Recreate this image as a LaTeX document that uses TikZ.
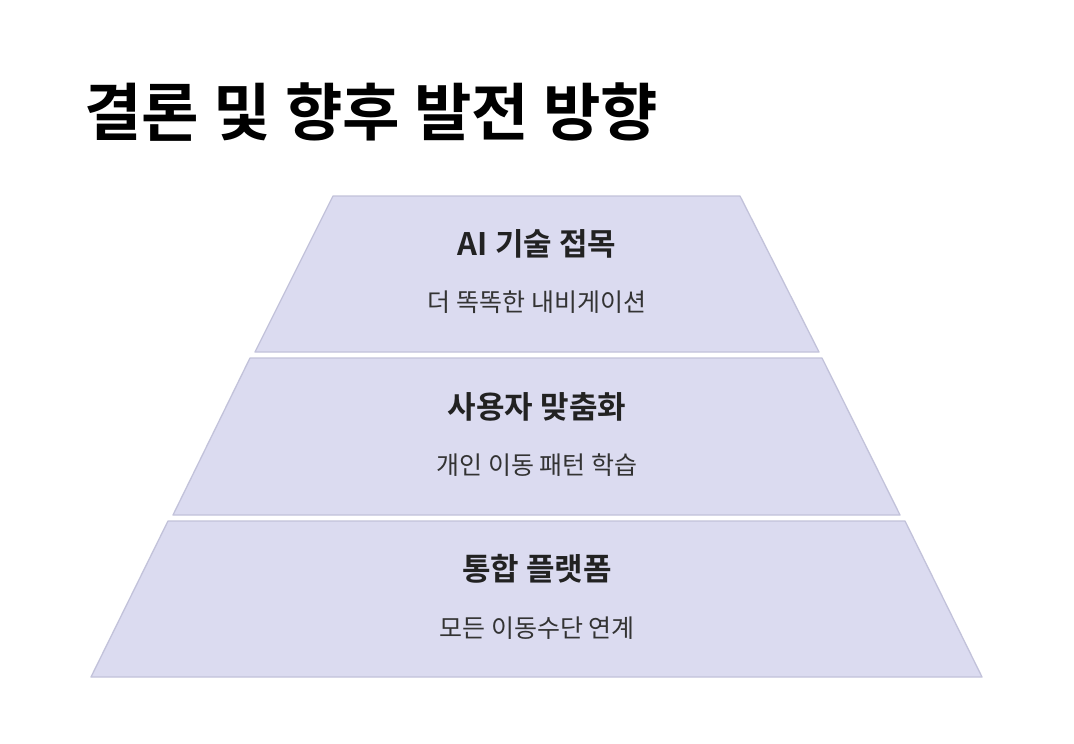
\documentclass[tikz,border=0pt]{standalone}
\usepackage{fontspec}
\setmainfont{Noto Sans CJK KR}
\newfontfamily\krb{Noto Sans CJK KR Bold}
\definecolor{layerfill}{HTML}{DBDBF0}
\definecolor{layerline}{HTML}{C2C2DA}
\definecolor{txtdark}{HTML}{222222}
\definecolor{txtsub}{HTML}{333333}
\begin{document}
\begin{tikzpicture}[x=1pt,y=-1pt,
  layer/.style={fill=layerfill,draw=layerline,line width=1.3pt,line join=round},
  headtxt/.style={inner sep=0pt,text=txtdark,font=\krb\fontsize{31}{34}\selectfont},
  subtxt/.style={inner sep=0pt,text=txtsub,font=\fontsize{25}{28}\selectfont},
  titletxt/.style={inner sep=0pt,anchor=west,text=black,font=\krb\fontsize{62.5}{66}\selectfont}]
\useasboundingbox (0,0) rectangle (1074,744);
\fill[white] (0,0) rectangle (1074,744);
\node[titletxt] (title) at (84,112) {결론 및 향후 발전 방향};
% layers
\draw[layer] (333,196) -- (740,196) -- (819,352) -- (255,352) -- cycle;
\draw[layer] (250,358) -- (822,358) -- (900,515) -- (173,515) -- cycle;
\draw[layer] (168,521) -- (905,521) -- (982,677) -- (91,677) -- cycle;
\node[headtxt] (h1) at (537,244) {AI 기술 접목};
\node[subtxt] (s1) at (537,302) {더 똑똑한 내비게이션};
\node[headtxt] (h2) at (537,407) {사용자 맞춤화};
\node[subtxt] (s2) at (537,465) {개인 이동 패턴 학습};
\node[headtxt] (h3) at (537,569) {통합 플랫폼};
\node[subtxt] (s3) at (537,628) {모든 이동수단 연계};
\end{tikzpicture}
\end{document}
